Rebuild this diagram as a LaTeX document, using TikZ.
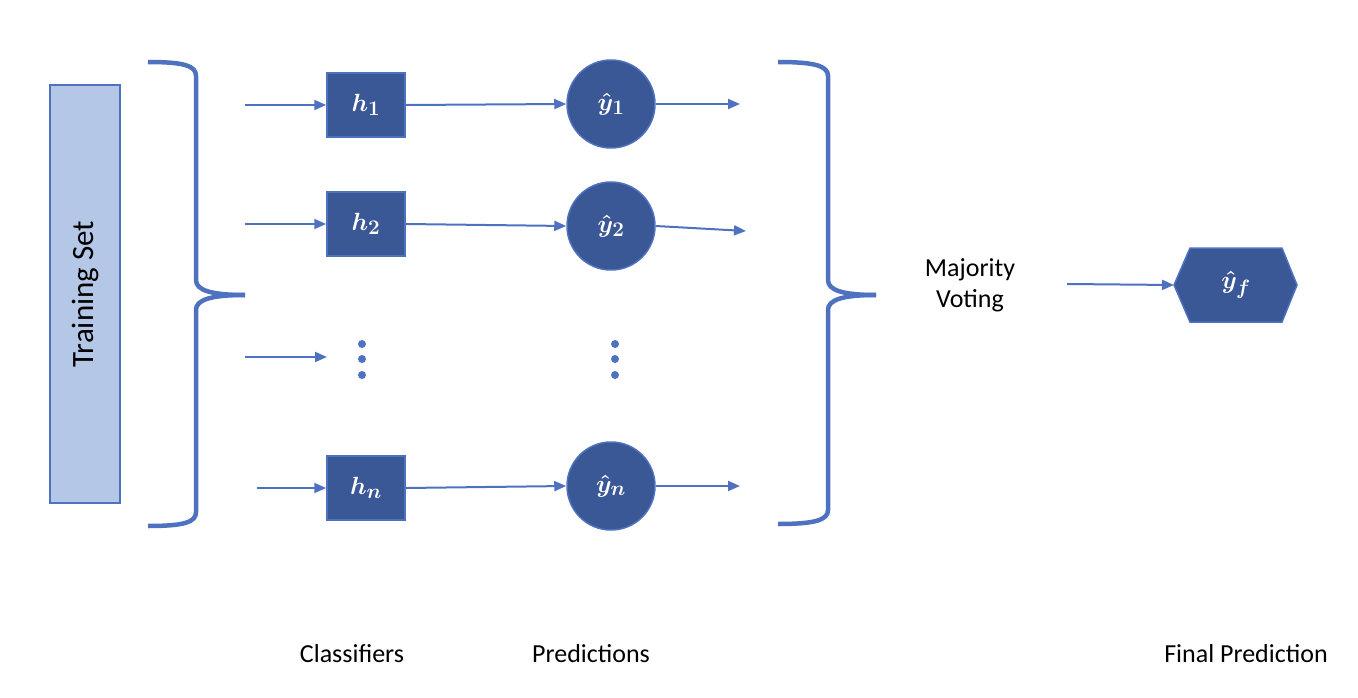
\documentclass[tikz,border=0pt]{standalone}
\usepackage{fontspec}
\setmainfont{Carlito}
\usetikzlibrary{arrows.meta}
\definecolor{lineblue}{RGB}{79,114,192}
\definecolor{darkblue}{RGB}{58,87,150}
\definecolor{lightblue}{RGB}{180,199,231}
\tikzset{
  conn/.style={draw=lineblue, line width=2pt, -{Triangle[length=12pt,width=10pt]}},
  brace/.style={draw=lineblue, line width=4.5pt},
  mathtxt/.style={text=white, font=\fontsize{28}{32}\selectfont\boldmath},
  clf/.style={draw=lineblue, line width=1.5pt, fill=darkblue, minimum width=78pt, minimum height=64pt, inner sep=0pt, mathtxt},
  pred/.style={circle, draw=lineblue, line width=1.5pt, fill=darkblue, minimum size=88pt, inner sep=0pt, mathtxt},
  lbl/.style={font=\fontsize{26}{31}\selectfont, text=black},
  dot/.style={circle, fill=lineblue, minimum size=8pt, inner sep=0pt}
}
\begin{document}
\begin{tikzpicture}[x=1pt,y=-1pt]
\useasboundingbox (0,0) rectangle (1358,698);
% training set
\node[draw=lineblue, line width=1.5pt, fill=lightblue, minimum width=70pt, minimum height=418pt, inner sep=0pt] (train) at (85,294) {};
\node[rotate=90, font=\fontsize{31}{36}\selectfont] (traintxt) at (train.center) {Training Set};
% left brace
\draw[brace] (148,62) .. controls (185,62) and (196,66) .. (196,76) -- (196,280) .. controls (196,290) and (210,295) .. (245,295);
\draw[brace] (148,526) .. controls (185,526) and (196,522) .. (196,512) -- (196,310) .. controls (196,300) and (210,295) .. (245,295);
% right brace
\draw[brace] (778,62) .. controls (815,62) and (828,66) .. (828,76) -- (828,280) .. controls (828,290) and (842,295) .. (876,295);
\draw[brace] (778,524) .. controls (815,524) and (828,520) .. (828,510) -- (828,310) .. controls (828,300) and (842,295) .. (876,295);
% classifiers
\node[clf] (h1) at (366,105) {$h_1$};
\node[clf] (h2) at (366,224) {$h_2$};
\node[clf] (hn) at (366,488) {$h_n$};
% predictions
\node[pred] (y1) at (611,104) {$\hat{y}_1$};
\node[pred] (y2) at (611,226) {$\hat{y}_2$};
\node[pred] (yn) at (611,486) {$\hat{y}_n$};
% input coordinates
\coordinate (i1) at (245,105);
\coordinate (i2) at (245,224);
\coordinate (i3) at (245,357);
\coordinate (i4) at (257,488);
\coordinate (d3) at (327,357);
\draw[conn] (i1) -- (h1.west);
\draw[conn] (i2) -- (h2.west);
\draw[conn] (i3) -- (d3);
\draw[conn] (i4) -- (hn.west);
% classifier to prediction
\draw[conn] (h1.east) -- (y1.west);
\draw[conn] (h2.east) -- (y2.west);
\draw[conn] (hn.east) -- (yn.west);
% outputs
\coordinate (o1) at (740,104);
\coordinate (o2) at (746,231);
\coordinate (on) at (740,486);
\draw[conn] (y1.east) -- (o1);
\draw[conn] (y2.east) -- (o2);
\draw[conn] (yn.east) -- (on);
% dots
\node[dot] (da1) at (362,344) {};
\node[dot] (da2) at (362,359) {};
\node[dot] (da3) at (362,375) {};
\node[dot] (db1) at (615,344) {};
\node[dot] (db2) at (615,359) {};
\node[dot] (db3) at (615,375) {};
% majority voting
\node[lbl, align=center] (mv) at (970,285) {Majority\\Voting};
% final hexagon
\draw[draw=lineblue, line width=1.5pt, fill=darkblue] (1174,285) -- (1190,248) -- (1282,248) -- (1297,285) -- (1282,322) -- (1190,322) -- cycle;
\coordinate (hexw) at (1174,285);
\node[mathtxt] (yf) at (1236,285) {$\hat{y}_f$};
\coordinate (mvout) at (1067,284);
\draw[conn] (mvout) -- (hexw);
% bottom labels
\node[lbl] (lc) at (352,654) {Classifiers};
\node[lbl] (lp) at (591,654) {Predictions};
\node[lbl] (lf) at (1246,654) {Final Prediction};
\end{tikzpicture}
\end{document}
